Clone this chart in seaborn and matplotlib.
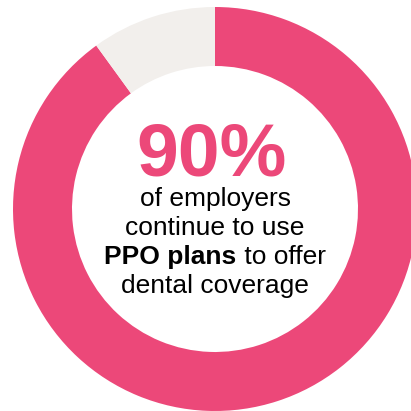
import matplotlib
matplotlib.use("Agg")
import matplotlib.pyplot as plt
import seaborn as sns

# Share of employers using PPO plans for dental coverage
labels = ["PPO plans", "Other"]
shares = [90, 10]
headline = "90%"
line1 = "of employers"
line2 = "continue to use"
line3_bold = "PPO plans"
line3_rest = " to offer"
line4 = "dental coverage"

sns.set_theme(style="white")
plt.rcParams["font.family"] = ["Liberation Sans", "DejaVu Sans"]

pink = "#EC4879"
light = "#F2EFEC"
colors = sns.color_palette([pink, light])

fig = plt.figure(figsize=(4.11, 4.11), dpi=100)
ax = fig.add_axes([0, 0, 1, 1])

ax.pie(shares, colors=colors, radius=202, startangle=90, counterclock=False,
       wedgeprops=dict(width=59, linewidth=0), center=(0, 0), frame=True)
ax.set_xlim(-215, 196)
ax.set_ylim(-202, 209)
ax.set_aspect("equal")
ax.axis("off")

fs = 19
ax.text(-3, 34, headline, ha="center", va="baseline", fontsize=54,
        fontweight="bold", color=pink)
ax.text(0, 3, line1, ha="center", va="baseline", fontsize=fs, color="black")
ax.text(0, -26, line2, ha="center", va="baseline", fontsize=fs, color="black")
ax.text(0, -84, line4, ha="center", va="baseline", fontsize=fs, color="black")

# Mixed-weight line: measure both parts and center them together
fig.canvas.draw()
r = fig.canvas.get_renderer()
tb = ax.text(0, -55, line3_bold, ha="left", va="baseline", fontsize=fs,
             fontweight="bold", color="black")
tr = ax.text(0, -55, line3_rest, ha="left", va="baseline", fontsize=fs,
             color="black")
wb = tb.get_window_extent(r).width
wr = tr.get_window_extent(r).width
x0 = -(wb + wr) / 2
tb.set_x(x0)
tr.set_x(x0 + wb)

fig.savefig("out.png", dpi=100, facecolor="white")
